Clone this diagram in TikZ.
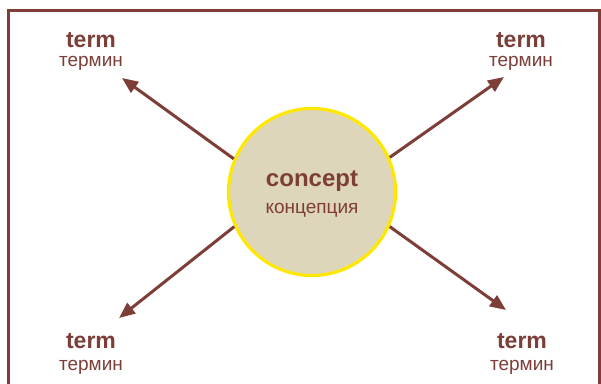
\documentclass[tikz,border=0pt]{standalone}
\usepackage{fontspec}
\setmainfont{Liberation Sans}
\usetikzlibrary{arrows.meta}
\definecolor{brownc}{RGB}{125,62,56}
\definecolor{circfill}{RGB}{222,214,186}
\definecolor{circline}{RGB}{255,232,0}
\tikzset{
  termbold/.style={text=brownc, font=\fontsize{23}{26}\selectfont\bfseries, anchor=base, inner sep=0pt},
  termru/.style={text=brownc, font=\fontsize{19}{22}\selectfont, anchor=base, inner sep=0pt},
  link/.style={draw=brownc, line width=3pt, -{Triangle[length=16pt,width=13pt]}},
  frameline/.style={draw=brownc, line width=3pt}
}
\begin{document}
\begin{tikzpicture}[x=1pt,y=-1pt]
\useasboundingbox (0,0) rectangle (601,383);
\fill[white] (0,0) rectangle (601,383);
% frame (open at the bottom)
\draw[frameline] (8.7,390) -- (8.7,10.7) -- (599.5,10.7) -- (599.5,390);
% centre circle
\node[circle, minimum size=167pt, fill=circfill, draw=circline, line width=3.2pt, inner sep=0pt] (c) at (312,192) {};
\node[termbold, font=\fontsize{24}{27}\selectfont\bfseries] (cen) at (312,186) {concept};
\node[termru, font=\fontsize{19}{22}\selectfont] (cru) at (312,213) {концепция};
% term labels
\node[termbold] (t1) at (91,47) {term};
\node[termru] (r1) at (91,66) {термин};
\node[termbold] (t2) at (521,47) {term};
\node[termru] (r2) at (521,66) {термин};
\node[termbold] (t3) at (91,348) {term};
\node[termru] (r3) at (91,370) {термин};
\node[termbold] (t4) at (522,348) {term};
\node[termru] (r4) at (522,370) {термин};
% arrow end points
\coordinate (a1) at (122,78);
\coordinate (a2) at (504,77);
\coordinate (a3) at (119,318);
\coordinate (a4) at (506,310);
\draw[link] (c.157) -- (a1);
\draw[link] (c.24) -- (a2);
\draw[link] (c.204) -- (a3);
\draw[link] (c.336) -- (a4);
\end{tikzpicture}
\end{document}
